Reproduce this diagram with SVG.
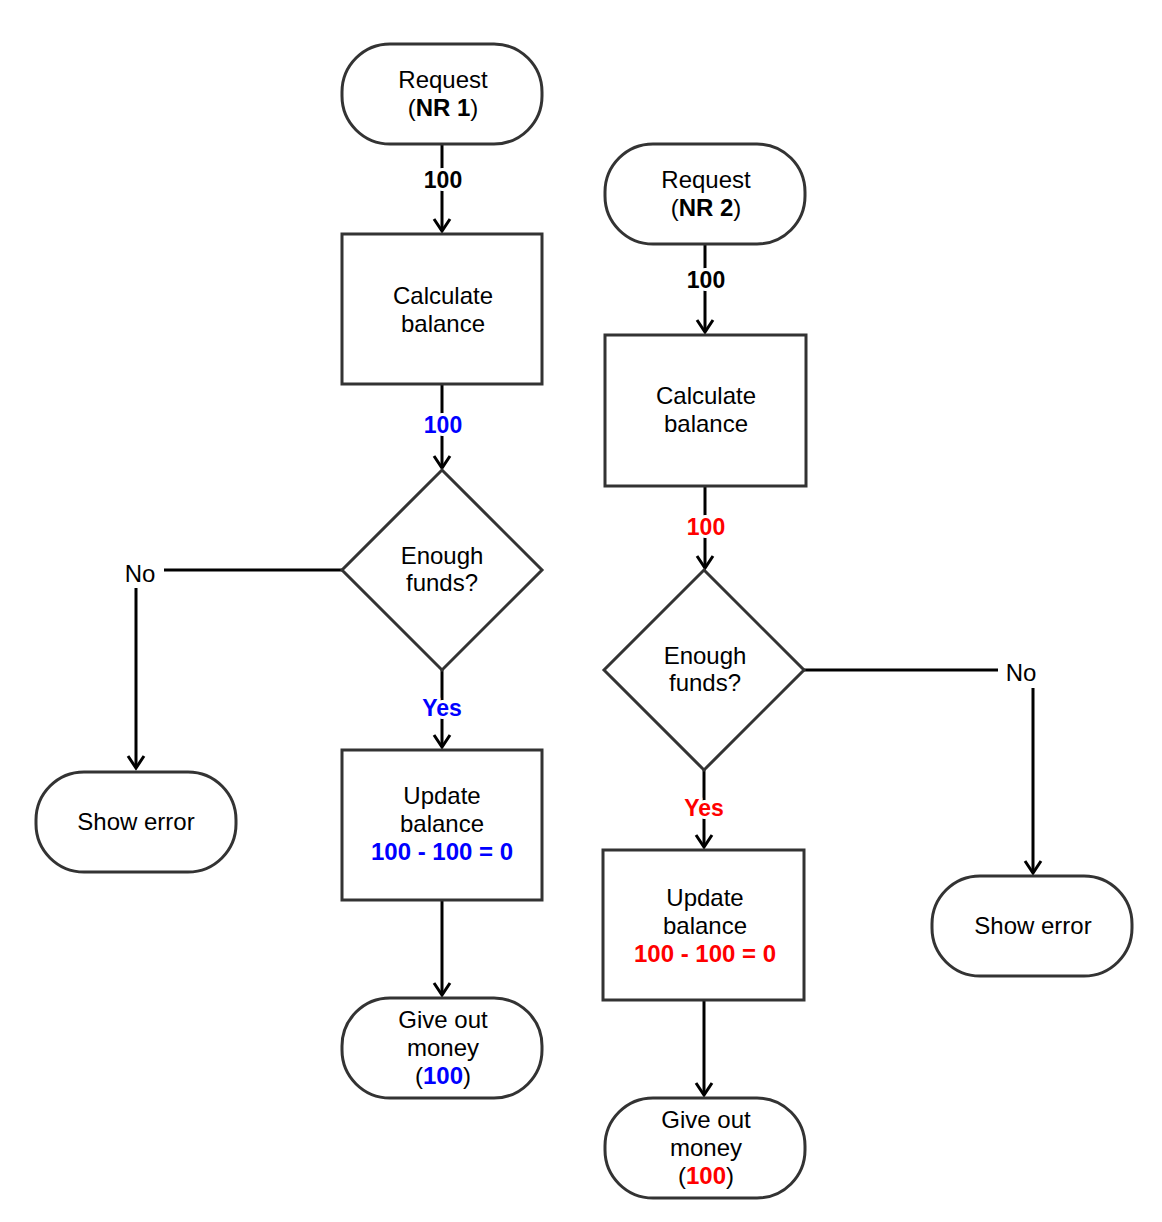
<svg xmlns="http://www.w3.org/2000/svg" width="1162" height="1222" viewBox="0 0 1162 1222">
<style>
.n{fill:#fff;stroke:#333;stroke-width:3}
.c{fill:none;stroke:#000;stroke-width:3}
text{font-family:"Liberation Sans",Arial,sans-serif;font-size:24px;text-anchor:middle;fill:#000}
.b{font-weight:bold}
.bl{fill:#0000ff}
.rd{fill:#ff0000}
.lbl{font-size:23px;font-weight:bold;stroke:#fff;stroke-width:6;paint-order:stroke;stroke-linejoin:round}
</style>
<defs>
<marker id="ah" markerUnits="userSpaceOnUse" markerWidth="20" markerHeight="20" viewBox="-14 -10 16 20" refX="0" refY="0" orient="auto">
<path d="M-12,-8 L0,0 L-12,8" fill="none" stroke="#000" stroke-width="3"/>
</marker>
</defs>
<rect width="1162" height="1222" fill="#fff"/>
<g id="connectors">
<path class="c" d="M442,144 V231" marker-end="url(#ah)"/>
<path class="c" d="M442,384 V468" marker-end="url(#ah)"/>
<path class="c" d="M342,570 H136 V768" marker-end="url(#ah)"/>
<path class="c" d="M442,670 V747" marker-end="url(#ah)"/>
<path class="c" d="M442,900 V995" marker-end="url(#ah)"/>
<path class="c" d="M705,244 V332" marker-end="url(#ah)"/>
<path class="c" d="M705,486 V568" marker-end="url(#ah)"/>
<path class="c" d="M804,670 H1033 V873" marker-end="url(#ah)"/>
<path class="c" d="M704,770 V847" marker-end="url(#ah)"/>
<path class="c" d="M704,1000 V1095" marker-end="url(#ah)"/>
<text class="lbl" x="443" y="188">100</text>
<text class="lbl bl" x="443" y="433">100</text>
<rect x="118" y="558" width="46" height="30" fill="#fff"/>
<text x="140" y="582">No</text>
<text class="lbl bl" x="442" y="716">Yes</text>
<text class="lbl" x="706" y="288">100</text>
<text class="lbl rd" x="706" y="535">100</text>
<rect x="998" y="658" width="46" height="30" fill="#fff"/>
<text x="1021" y="681">No</text>
<text class="lbl rd" x="704" y="816">Yes</text>
</g>
<g id="req1"><rect class="n" x="342" y="44" width="200" height="100" rx="48"/><text x="443" y="88">Request</text><text x="443" y="116">(<tspan class="b">NR 1</tspan>)</text></g>
<g id="calc1"><rect class="n" x="342" y="234" width="200" height="150"/><text x="443" y="304">Calculate</text><text x="443" y="332">balance</text></g>
<g id="dec1"><path class="n" d="M442,470 L542,570 L442,670 L342,570 Z"/><text x="442" y="564">Enough</text><text x="442" y="591">funds?</text></g>
<g id="err1"><rect class="n" x="36" y="772" width="200" height="100" rx="48"/><text x="136" y="830">Show error</text></g>
<g id="upd1"><rect class="n" x="342" y="750" width="200" height="150"/><text x="442" y="804">Update</text><text x="442" y="832">balance</text><text class="b bl" x="442" y="860">100 - 100 = 0</text></g>
<g id="give1"><rect class="n" x="342" y="998" width="200" height="100" rx="48"/><text x="443" y="1028">Give out</text><text x="443" y="1056">money</text><text x="443" y="1084">(<tspan class="b bl">100</tspan>)</text></g>
<g id="req2"><rect class="n" x="605" y="144" width="200" height="100" rx="48"/><text x="706" y="188">Request</text><text x="706" y="216">(<tspan class="b">NR 2</tspan>)</text></g>
<g id="calc2"><rect class="n" x="605" y="335" width="201" height="151"/><text x="706" y="404">Calculate</text><text x="706" y="432">balance</text></g>
<g id="dec2"><path class="n" d="M704,570 L804,670 L704,770 L604,670 Z"/><text x="705" y="664">Enough</text><text x="705" y="691">funds?</text></g>
<g id="err2"><rect class="n" x="932" y="876" width="200" height="100" rx="48"/><text x="1033" y="934">Show error</text></g>
<g id="upd2"><rect class="n" x="603" y="850" width="201" height="150"/><text x="705" y="906">Update</text><text x="705" y="934">balance</text><text class="b rd" x="705" y="962">100 - 100 = 0</text></g>
<g id="give2"><rect class="n" x="605" y="1098" width="200" height="100" rx="48"/><text x="706" y="1128">Give out</text><text x="706" y="1156">money</text><text x="706" y="1184">(<tspan class="b rd">100</tspan>)</text></g>
</svg>
